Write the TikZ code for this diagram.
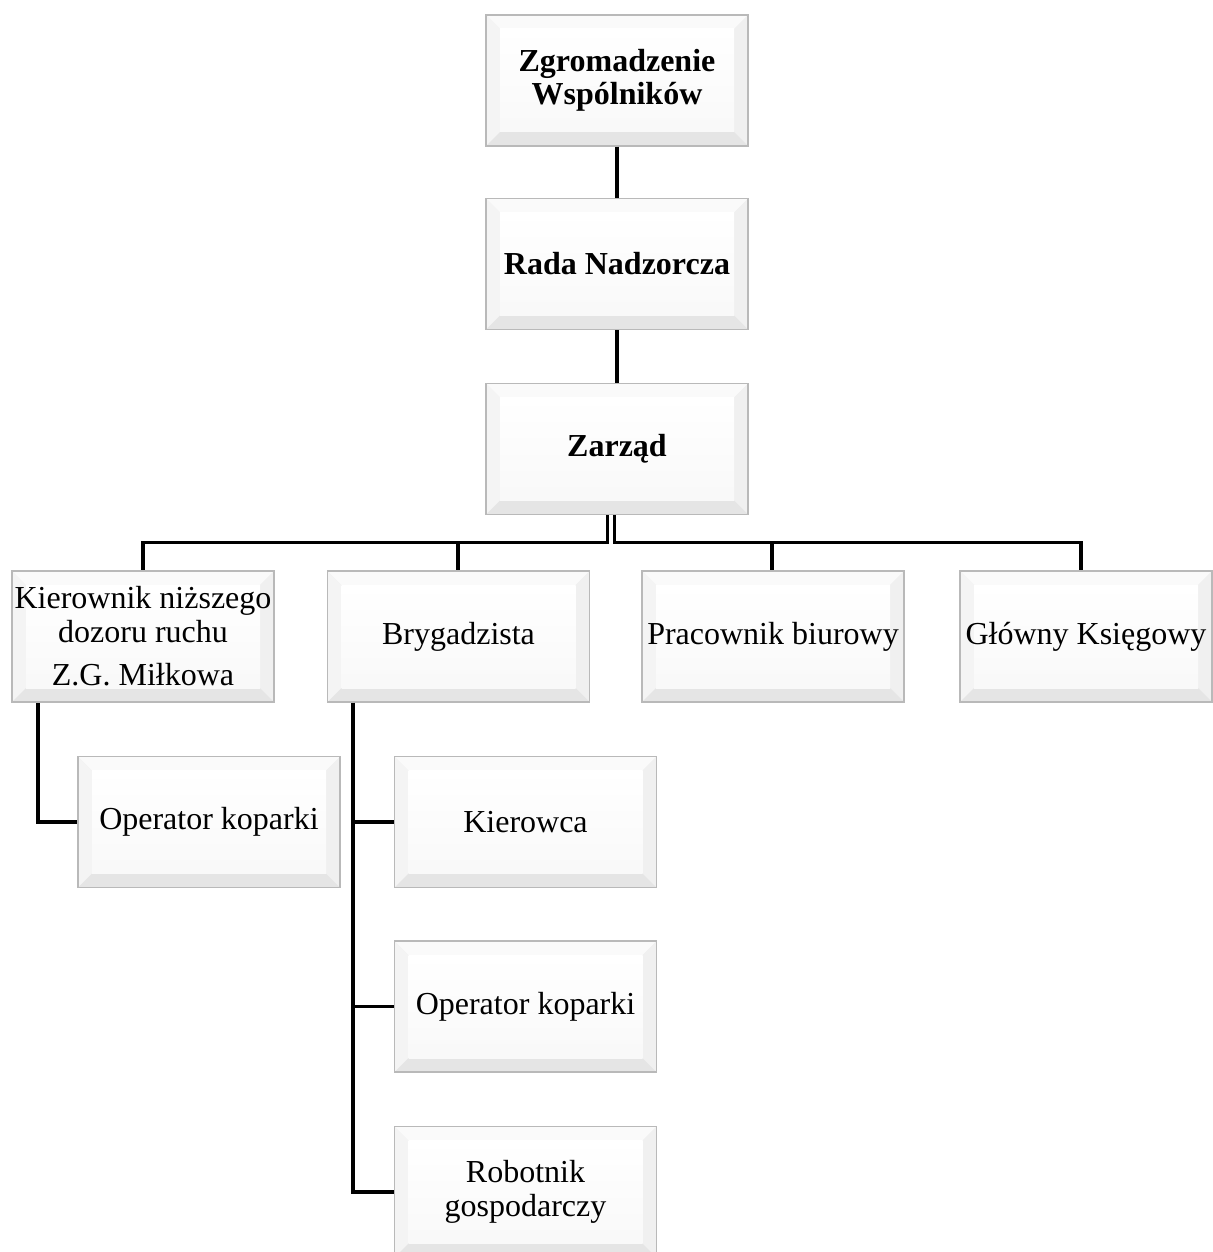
\documentclass[tikz,border=0pt]{standalone}
\usepackage{fontspec}
\setmainfont{Liberation Serif}
\usepackage{tikz}

\newcommand{\ppbb}{path picture bounding box}
\tikzset{
  orgbox/.style={draw=gray!55, line width=1.5pt, fill=gray!10,
    minimum width=262pt, minimum height=131pt, inner sep=0pt,
    align=center, font=\fontsize{32}{34}\selectfont,
    path picture={
      \fill[gray!4] (\ppbb.north west) -- (\ppbb.north east) -- ([shift={(-14pt,-14pt)}]\ppbb.north east) -- ([shift={(14pt,-14pt)}]\ppbb.north west) -- cycle;
      \fill[gray!9] (\ppbb.north west) -- (\ppbb.south west) -- ([shift={(14pt,14pt)}]\ppbb.south west) -- ([shift={(14pt,-14pt)}]\ppbb.north west) -- cycle;
      \fill[gray!12] (\ppbb.north east) -- (\ppbb.south east) -- ([shift={(-14pt,14pt)}]\ppbb.south east) -- ([shift={(-14pt,-14pt)}]\ppbb.north east) -- cycle;
      \fill[gray!20] (\ppbb.south west) -- (\ppbb.south east) -- ([shift={(-14pt,14pt)}]\ppbb.south east) -- ([shift={(14pt,14pt)}]\ppbb.south west) -- cycle;
      \shade[top color=white, bottom color=gray!5] ([shift={(14pt,-14pt)}]\ppbb.north west) rectangle ([shift={(-14pt,14pt)}]\ppbb.south east);
    }},
  topbox/.style={orgbox, font=\fontsize{32}{33}\selectfont\bfseries},
  conn/.style={line width=3.3pt}
}

\begin{document}
\begin{tikzpicture}[x=1pt,y=-1pt]
\useasboundingbox (0,0) rectangle (1212,1252);

\node[topbox] (zgromadzenie) at (617,80.5) {Zgromadzenie\\Wspólników};
\node[topbox] (rada) at (617,264) {Rada Nadzorcza};
\node[topbox] (zarzad) at (617,449) {Zarząd};

\node[orgbox] (kierownik) at (143,636.5) {Kierownik niższego\\dozoru ruchu\\[9pt]Z.G. Miłkowa};
\node[orgbox] (brygadzista) at (458.5,636.5) {Brygadzista};
\node[orgbox] (pracownik) at (773,636.5) {Pracownik biurowy};
\node[orgbox, minimum width=252pt] (glowny) at (1086,636.5) {Główny Księgowy};

\node[orgbox] (operatorA) at (209,822) {Operator koparki};
\node[orgbox] (kierowca) at (525.5,822) {Kierowca};
\node[orgbox] (operatorB) at (525.5,1006.5) {Operator koparki};
\node[orgbox] (robotnik) at (525.5,1192) {Robotnik\\gospodarczy};

\draw[conn] (zgromadzenie) -- (rada);
\draw[conn] (rada) -- (zarzad);

\draw[conn] ([xshift=-9.5pt]zarzad.south) -- ++(0,27) -| (kierownik.north);
\draw[conn] ([xshift=-9.5pt]zarzad.south) -- ++(0,27) -| ([xshift=-0.5pt]brygadzista.north);
\draw[conn] ([xshift=-2.5pt]zarzad.south) -- ++(0,27) -| ([xshift=-1pt]pracownik.north);
\draw[conn] ([xshift=-2.5pt]zarzad.south) -- ++(0,27) -| ([xshift=-5pt]glowny.north);

\draw[conn] ([xshift=-105pt]kierownik.south) |- (operatorA.west);
\draw[conn] ([xshift=-105.5pt]brygadzista.south) |- (kierowca.west);
\draw[conn] ([xshift=-105.5pt]brygadzista.south) |- (operatorB.west);
\draw[conn] ([xshift=-105.5pt]brygadzista.south) |- (robotnik.west);
\end{tikzpicture}
\end{document}
